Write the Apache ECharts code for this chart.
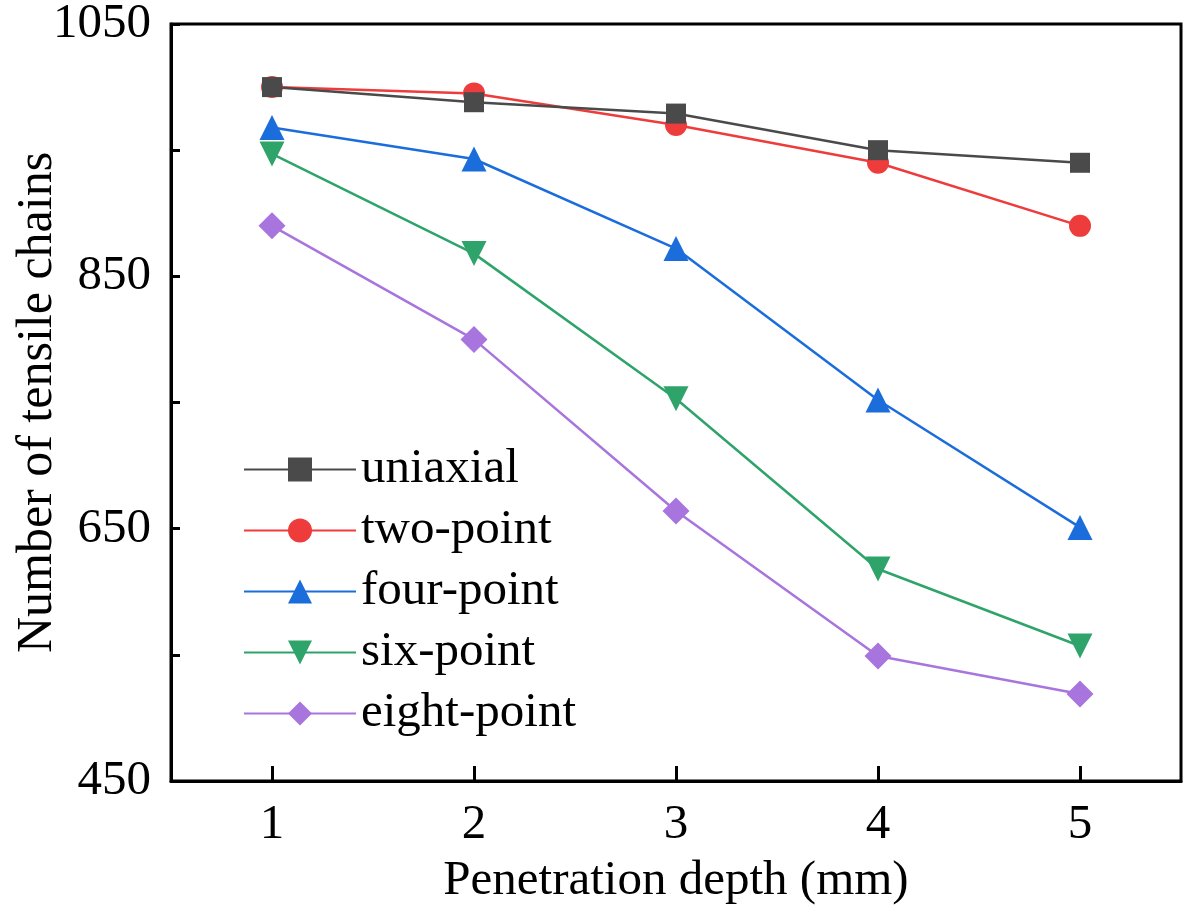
<!DOCTYPE html>
<html>
<head>
<meta charset="utf-8">
<script src="https://cdn.jsdelivr.net/npm/echarts@6/dist/echarts.min.js"></script>
<style>html,body{margin:0;padding:0;background:#fff}#c{width:1184px;height:908px}</style>
</head>
<body>
<div id="c"></div>
<script>
var depths = [1, 2, 3, 4, 5];
var uniaxial = [1000, 988, 979, 950, 940];
var twoPoint = [1000, 995, 970, 940, 890];
var fourPoint = [968, 943, 872, 752, 651];
var sixPoint = [947, 868, 753, 618, 557];
var eightPoint = [890, 800, 664, 549, 519];
var seriesNames = ['uniaxial', 'two-point', 'four-point', 'six-point', 'eight-point'];
var yLabels = [450, 650, 850, 1050];

var FONT = '"Liberation Serif", "Times New Roman", serif';
function pairs(vals) { return depths.map(function (d, i) { return [d, vals[i]]; }); }

var specs = [
  { data: uniaxial, color: '#4a4a4a', symbol: 'rect', size: 20, rotate: 0 },
  { data: twoPoint, color: '#ee3b3b', symbol: 'circle', size: 22, rotate: 0 },
  { data: fourPoint, color: '#1c6ddc', symbol: 'triangle', size: 25, rotate: 0 },
  { data: sixPoint, color: '#2fa46a', symbol: 'triangle', size: 25, rotate: 180 },
  { data: eightPoint, color: '#a874de', symbol: 'diamond', size: 27, rotate: 0 }
];

var chart = echarts.init(document.getElementById('c'));
chart.setOption({
  animation: false,
  backgroundColor: '#fff',
  grid: { left: 171, right: 3, top: 24, bottom: 127, show: true, borderColor: '#000', borderWidth: 3,
    backgroundColor: 'transparent', containLabel: false, outerBoundsMode: 'none' },
  legend: {
    orient: 'vertical',
    left: 238,
    top: 440,
    itemWidth: 112,
    itemHeight: 30,
    itemGap: 12,
    textStyle: { fontFamily: FONT, fontSize: 49, color: '#000', padding: [0, 0, 0, 0] },
    data: seriesNames
  },
  xAxis: {
    type: 'value',
    min: 0.5, max: 5.5,
    name: 'Penetration depth (mm)',
    nameLocation: 'middle',
    nameGap: 76,
    nameMoveOverlap: false,
    nameTextStyle: { fontFamily: FONT, fontSize: 49, color: '#000' },
    axisLine: { lineStyle: { color: '#000', width: 3 } },
    axisTick: { inside: true, length: 15, customValues: depths, lineStyle: { color: '#000', width: 3 } },
    axisLabel: { fontFamily: FONT, fontSize: 49, color: '#000', margin: 20, customValues: depths },
    splitLine: { show: false }
  },
  yAxis: {
    type: 'value',
    min: 450, max: 1050, interval: 100,
    name: 'Number of tensile chains',
    nameLocation: 'middle',
    nameGap: 108,
    nameMoveOverlap: false,
    nameTextStyle: { fontFamily: FONT, fontSize: 50, color: '#000' },
    axisLine: { lineStyle: { color: '#000', width: 3 } },
    axisTick: { inside: true, length: 9, lineStyle: { color: '#000', width: 3 } },
    axisLabel: { fontFamily: FONT, fontSize: 49, color: '#000', margin: 20,
      formatter: function (v) { return yLabels.indexOf(v) >= 0 ? String(v) : ''; } },
    splitLine: { show: false }
  },
  series: specs.map(function (s, i) {
    return {
      name: seriesNames[i],
      type: 'line',
      data: pairs(s.data),
      symbol: s.symbol,
      symbolSize: s.size,
      symbolRotate: s.rotate,
      showAllSymbol: true,
      lineStyle: { color: s.color, width: 2.5 },
      itemStyle: { color: s.color },
      z: 10 - i
    };
  })
});
</script>
</body>
</html>
